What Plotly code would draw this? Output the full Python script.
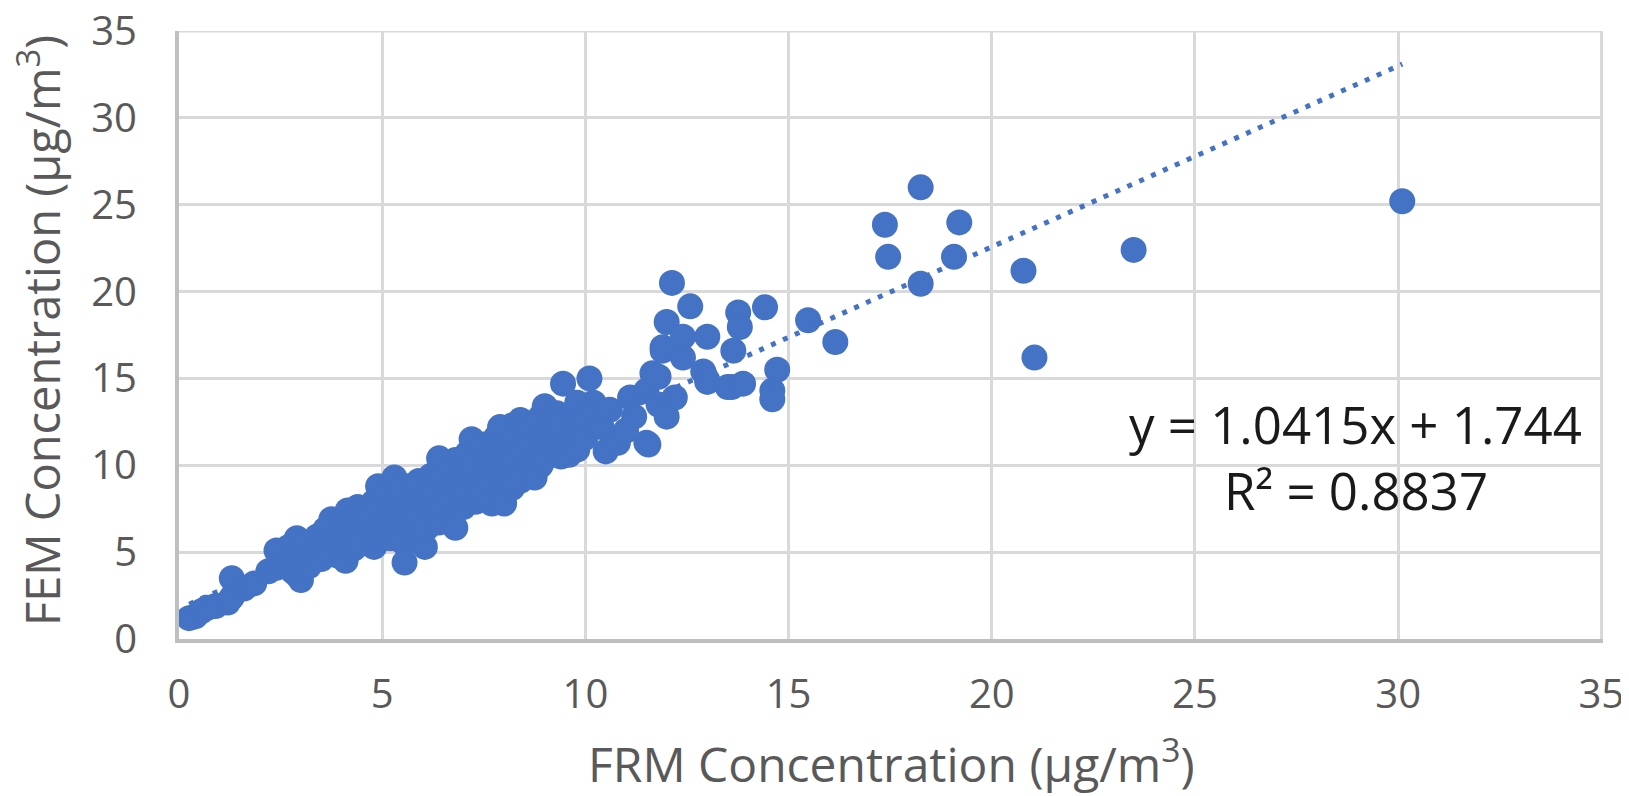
import plotly.graph_objects as go

# ---- data ----
frm = [
    0.25, 0.4, 0.55, 0.7, 0.9, 1.2, 1.3, 1.3, 1.6, 1.85,
    2.2, 2.4, 2.4, 2.6, 2.7, 2.8, 2.9, 2.9, 3.0, 3.0,
    3.1, 3.2, 3.3, 3.4, 3.5, 3.6, 3.7, 3.75, 3.9, 3.9, 4.0,
    4.1, 4.15, 4.2, 4.3, 4.3, 4.4, 4.5, 4.5, 4.6, 4.7, 4.7, 4.8, 4.8, 4.9, 4.9, 5.0,
    5.0, 5.1, 5.2, 5.2, 5.3, 5.3, 5.4, 5.4, 5.5, 5.5, 5.55, 5.6, 5.7, 5.7, 5.8, 5.8, 5.9, 5.9, 6.0, 6.0,
    6.05, 6.1, 6.2, 6.2, 6.3, 6.3, 6.4, 6.4, 6.5, 6.5, 6.6, 6.6, 6.7, 6.7, 6.8, 6.8, 6.8, 6.9, 7.0, 7.0,
    7.1, 7.1, 7.2, 7.2, 7.3, 7.3, 7.4, 7.4, 7.5, 7.5, 7.6, 7.6, 7.7, 7.7, 7.8, 7.8, 7.9, 7.9, 8.0, 8.0,
    8.1, 8.1, 8.2, 8.2, 8.3, 8.3, 8.4, 8.4, 8.5, 8.6, 8.6, 8.75, 8.8, 8.9, 8.9, 9.0, 9.0, 9.0,
    9.1, 9.2, 9.3, 9.4, 9.4, 9.45, 9.5, 9.6, 9.7, 9.8, 9.8, 9.9, 10.0,
    10.1, 10.2, 10.3, 10.4, 10.5, 10.6, 10.8, 11.0, 11.1, 11.2,
    11.5, 11.5, 11.55, 11.65, 11.8, 11.8, 11.9, 11.9, 12.0, 12.0,
    12.13, 12.2, 12.4, 12.4, 12.58, 12.9, 13.0, 13.0, 13.0,
    13.5, 13.6, 13.64, 13.76, 13.8, 13.88, 14.42, 14.6, 14.6, 14.72,
    15.48, 16.15, 17.37, 17.45, 18.25, 18.25, 19.07, 19.2, 20.78, 21.05, 23.49, 30.1,
]
fem = [
    1.2, 1.3, 1.6, 1.8, 1.9, 2.1, 2.4, 3.5, 2.9, 3.2,
    3.9, 5.1, 4.1, 4.4, 5.3, 3.9, 5.8, 3.7, 4.7, 3.4,
    5.4, 4.2, 5.0, 5.9, 4.6, 6.3, 5.2, 6.9, 5.6, 4.8, 6.4,
    4.5, 7.4, 5.7, 6.8, 5.2, 7.6, 6.3, 5.5, 7.3, 6.8, 5.9, 7.9, 5.3, 8.8, 6.5, 7.2,
    6.0, 8.3, 6.9, 5.8, 9.3, 7.6, 6.3, 8.5, 7.0, 5.6, 4.4, 8.8, 7.6, 6.3, 8.1, 5.7, 9.1, 7.0, 7.6, 8.5,
    5.3, 6.4, 9.4, 7.9, 7.1, 8.7, 10.4, 6.7, 9.1, 7.6, 8.3, 6.9, 9.7, 7.4, 10.3, 8.0, 6.4, 8.9, 9.8, 7.6,
    10.7, 8.4, 11.5, 9.2, 7.9, 10.1, 8.7, 10.9, 9.5, 11.2, 8.2, 10.3, 7.8, 9.0, 11.6, 9.8, 8.5, 12.2, 10.6, 7.8,
    9.3, 11.0, 12.3, 8.7, 10.2, 11.6, 12.6, 9.1, 10.8, 9.6, 12.4, 9.3, 11.2, 12.8, 10.0, 13.4, 11.6, 10.4,
    12.2, 11.0, 13.0, 10.5, 12.5, 14.7, 11.5, 10.6, 13.0, 13.6, 10.9, 12.3, 11.6,
    15.0, 13.6, 12.8, 12.2, 10.8, 13.2, 11.3, 12.0, 13.9, 12.8,
    14.3, 11.3, 11.2, 15.3, 15.1, 13.5, 16.8, 16.6, 18.25, 12.8,
    20.5, 13.9, 17.4, 16.2, 19.15, 15.4, 17.4, 14.8, 14.9,
    14.5, 14.5, 16.6, 18.8, 17.96, 14.7, 19.1, 14.3, 13.8, 15.5,
    18.35, 17.1, 23.85, 22.0, 26.0, 20.45, 22.0, 23.98, 21.2, 16.2, 22.4, 25.2,
]

slope = 1.0415
intercept = 1.744
r_squared = 0.8837

x_ticks = [0, 5, 10, 15, 20, 25, 30, 35]
y_ticks = [0, 5, 10, 15, 20, 25, 30, 35]

x_title = "FRM Concentration (µg/m<sup>3</sup>)"
y_title = "FEM Concentration (µg/m<sup>3</sup>)"

# ---- figure ----
BLUE = "#4472C4"
GRID = "#D9D9D9"
TXT = "#595959"
FONT = "Open Sans"

trend_x = [min(frm), max(frm)]
trend_y = [slope * v + intercept for v in trend_x]

fig = go.Figure()
fig.add_trace(go.Scatter(
    x=frm, y=fem, mode="markers",
    marker=dict(color=BLUE, size=26, line=dict(width=0)),
    showlegend=False, hoverinfo="x+y",
))
fig.add_trace(go.Scatter(
    x=trend_x, y=trend_y, mode="lines",
    line=dict(color=BLUE, width=5, dash="5px,8px"),
    showlegend=False, hoverinfo="skip",
))

axis_common = dict(
    showgrid=True, gridcolor=GRID, gridwidth=3,
    zeroline=False, showline=True, linecolor="#BFBFBF", linewidth=4,
    ticks="", tickfont=dict(family=FONT, size=40, color=TXT), fixedrange=True,
    ticklabeloverflow="allow",
)
fig.update_xaxes(**axis_common, range=[0, 35.04], tickvals=x_ticks, ticklabelstandoff=17)
fig.update_yaxes(**axis_common, range=[0, 35], tickvals=y_ticks, ticklabelstandoff=30)

# top frame gridline (at y = 35)
fig.add_shape(type="line", xref="paper", yref="y", x0=0, x1=1, y0=y_ticks[-1], y1=y_ticks[-1],
              line=dict(color=GRID, width=3), layer="below")

fig.add_annotation(
    x=0.5, y=0, xref="paper", yref="paper", xanchor="center", yanchor="middle",
    yshift=-122, text=x_title, showarrow=False,
    font=dict(family=FONT, size=48, color=TXT),
)
fig.add_annotation(
    x=0, y=0.5, xref="paper", yref="paper", xanchor="center", yanchor="middle",
    xshift=-140, yshift=4, textangle=-90, text=y_title, showarrow=False,
    font=dict(family=FONT, size=47, color=TXT),
)
fig.add_annotation(
    x=28.95, y=12.4, xref="x", yref="y", xanchor="center", yanchor="middle",
    text=f"y = {slope}x + {intercept}", showarrow=False,
    font=dict(family=FONT, size=51, color="#1a1a1a"),
)
fig.add_annotation(
    x=28.95, y=8.6, xref="x", yref="y", xanchor="center", yanchor="middle",
    text=f"R² = {r_squared}", showarrow=False,
    font=dict(family=FONT, size=51, color="#1a1a1a"),
)

fig.update_layout(
    width=1629, height=796,
    margin=dict(l=171, r=34, t=23, b=165, autoexpand=False),
    plot_bgcolor="white", paper_bgcolor="white",
    font=dict(family=FONT, color=TXT),
)

fig.write_html("out.html")
